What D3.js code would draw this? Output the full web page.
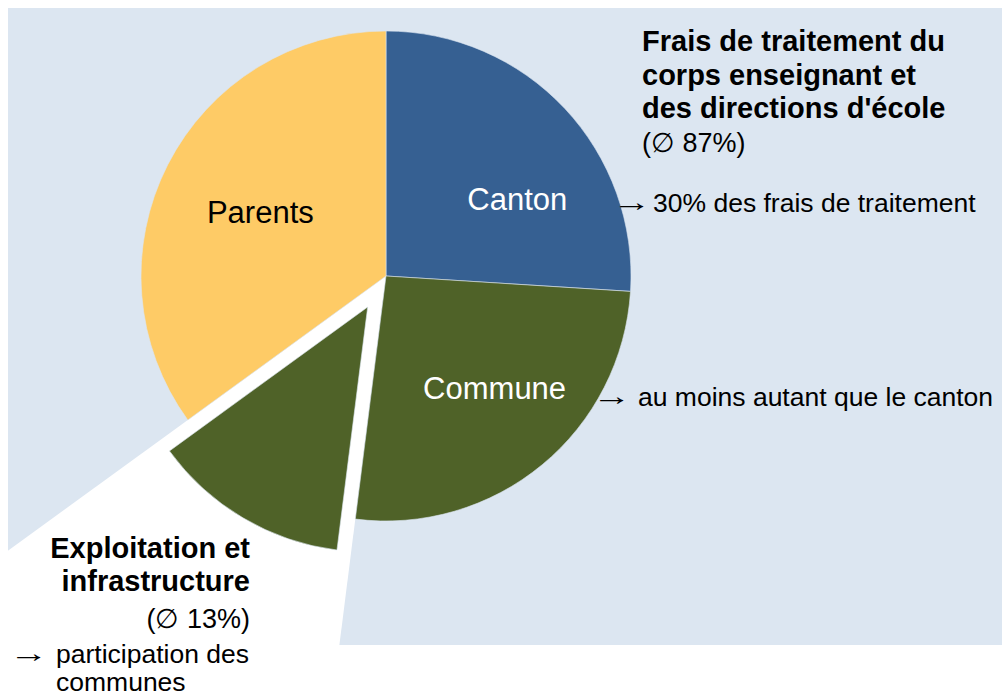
<!DOCTYPE html>
<html>
<head>
<meta charset="utf-8">
<script src="https://cdn.jsdelivr.net/npm/d3@7"></script>
<style>
  body { margin: 0; background: #fff; }
  text { font-family: "Liberation Sans", Arial, sans-serif; }
</style>
</head>
<body>
<div id="chart"></div>
<script>
// Financing shares of the school costs (percent of the pie)
const slices = ["Canton", "Commune", "Exploitation", "Parents"];
const shares = [26, 26, 13, 35];
const sliceLabels = ["Canton", "Commune", "", "Parents"];

const salaryTitle = ["Frais de traitement du", "corps enseignant et", "des directions d'école"];
const salaryShare = "(∅ 87%)";
const cantonNote = "30% des frais de traitement";
const communeNote = "au moins autant que le canton";
const infraTitle = ["Exploitation et", "infrastructure"];
const infraShare = "(∅ 13%)";
const infraNote = ["participation des", "communes"];

const width = 1002,
  height = 695;
const cx = 386,
  cy = 276,
  radius = 245,
  explode = 36;

const color = d3
  .scaleOrdinal()
  .domain(slices)
  .range(["#366092", "#4F6228", "#4F6228", "#FECB66"]);

const svg = d3
  .select("#chart")
  .append("svg")
  .attr("width", width)
  .attr("height", height);

// light blue panel
svg
  .append("rect")
  .attr("x", 8)
  .attr("y", 8)
  .attr("width", width - 8)
  .attr("height", 637)
  .attr("fill", "#DCE6F1");

const data = slices.map((s, i) => ({ name: s, share: shares[i], label: sliceLabels[i] }));
const pie = d3
  .pie()
  .sort(null)
  .value((d) => d.share);
const arcs = pie(data);

const arc = d3.arc().innerRadius(0).outerRadius(radius);
const farArc = d3.arc().innerRadius(0).outerRadius(1400);

const g = svg.append("g").attr("transform", `translate(${cx},${cy})`);

// white wedge behind the pulled-out slice
const exploded = arcs.find((d) => d.data.name === "Exploitation");
g.append("path").attr("d", farArc(exploded)).attr("fill", "#fff");

function offset(d) {
  if (d.data.name !== "Exploitation") return [0, 0];
  const mid = (d.startAngle + d.endAngle) / 2;
  return [Math.sin(mid) * explode, -Math.cos(mid) * explode];
}

g.selectAll("path.slice")
  .data(arcs)
  .enter()
  .append("path")
  .attr("class", "slice")
  .attr("transform", (d) => `translate(${offset(d)})`)
  .attr("d", arc)
  .attr("fill", (d) => color(d.data.name))
  .attr("stroke", "#DCE6F1")
  .attr("stroke-width", 0.6);

// slice labels near the centroids
const labelArc = d3.arc().innerRadius(0).outerRadius(300);
const nudge = { Canton: [22, 37], Commune: [13, 7], Parents: [8, 15] };
g.selectAll("text.slice-label")
  .data(arcs.filter((d) => d.data.label))
  .enter()
  .append("text")
  .attr("class", "slice-label")
  .attr("x", (d) => labelArc.centroid(d)[0] + nudge[d.data.name][0])
  .attr("y", (d) => labelArc.centroid(d)[1] + nudge[d.data.name][1])
  .attr("text-anchor", "middle")
  .attr("font-size", 31)
  .attr("fill", (d) => (d.data.name === "Parents" ? "#000" : "#fff"))
  .text((d) => d.data.label);

// right annotation block
const right = svg.append("g");
right
  .selectAll("text.title")
  .data(salaryTitle)
  .enter()
  .append("text")
  .attr("class", "title")
  .attr("x", 642)
  .attr("y", (d, i) => 51 + i * 33.5)
  .attr("font-size", 29)
  .attr("font-weight", "bold")
  .text((d) => d);
right
  .append("text")
  .attr("x", 642)
  .attr("y", 152)
  .attr("font-size", 27)
  .text(salaryShare);

// arrow glyph is stretched horizontally to look like a long math arrow
function arrowNote(x, tx, y, txt) {
  svg
    .append("text")
    .attr("transform", `translate(${x - 8.5},${y - 1}) scale(1.5,1)`)
    .attr("font-size", 26)
    .text("→");
  svg
    .append("text")
    .attr("x", tx)
    .attr("y", y)
    .attr("font-size", 26.5)
    .text(txt);
}
arrowNote(621, 653, 212, cantonNote);
arrowNote(601, 638, 406, communeNote);

// bottom-left annotation block
svg
  .selectAll("text.infra")
  .data(infraTitle)
  .enter()
  .append("text")
  .attr("class", "infra")
  .attr("x", 250)
  .attr("y", (d, i) => 558 + i * 33)
  .attr("text-anchor", "end")
  .attr("font-size", 29)
  .attr("font-weight", "bold")
  .text((d) => d);
svg
  .append("text")
  .attr("x", 250)
  .attr("y", 628)
  .attr("text-anchor", "end")
  .attr("font-size", 27)
  .text(infraShare);
arrowNote(18, 56, 663, infraNote[0]);
svg
  .append("text")
  .attr("x", 56)
  .attr("y", 691)
  .attr("font-size", 26.5)
  .text(infraNote[1]);
</script>
</body>
</html>
